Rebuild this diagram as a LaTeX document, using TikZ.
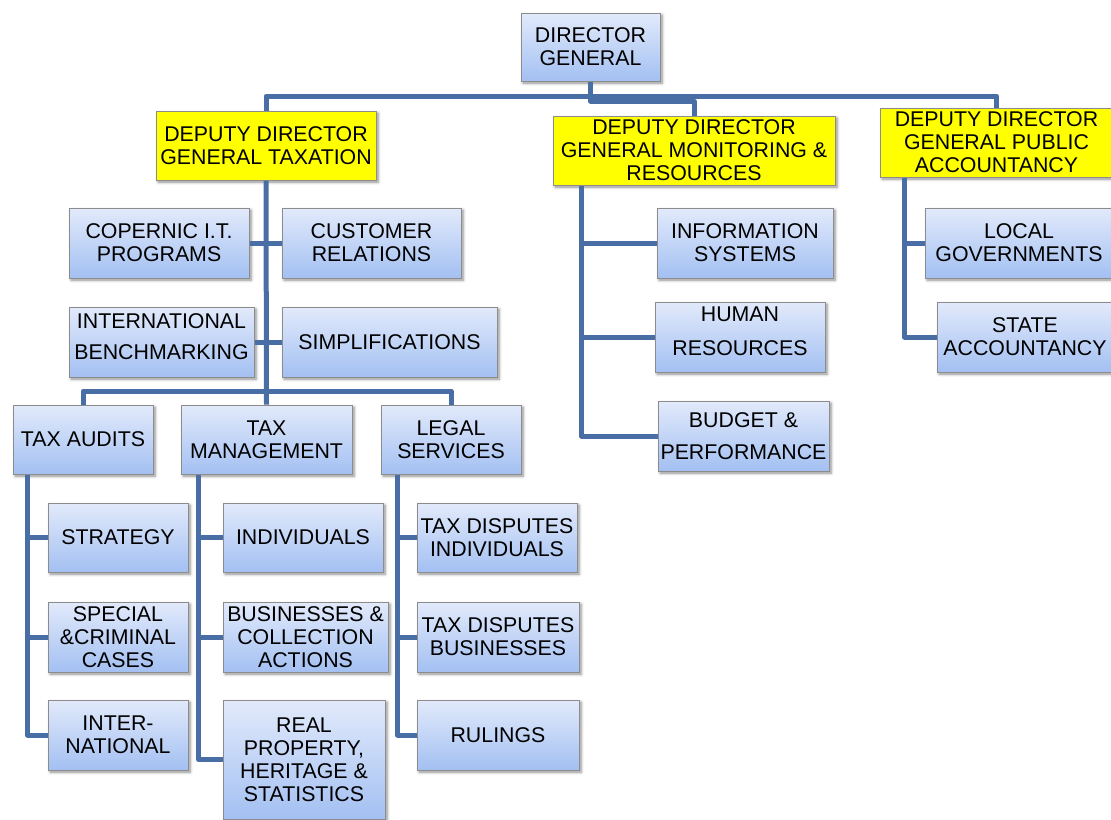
\documentclass[tikz,border=0pt]{standalone}
\usepackage{fontspec}
\setmainfont{Liberation Sans}
\usetikzlibrary{shadows.blur}
\definecolor{linkblue}{RGB}{72,110,165}
\definecolor{boxtop}{RGB}{226,234,251}
\definecolor{boxbottom}{RGB}{163,192,242}
\definecolor{boxedge}{RGB}{140,140,140}
\definecolor{deputy}{RGB}{255,255,0}

% unit box: name, style, x1, y1, x2, y2, text (pixel coordinates)
\newcommand\orgbox[7]{%
  \pgfmathsetmacro\obw{(#5-#3)*0.75}%
  \pgfmathsetmacro\obh{(#6-#4)*0.75}%
  \pgfmathsetmacro\obx{(#3+#5)/2}%
  \pgfmathsetmacro\oby{(#4+#6)/2}%
  \node[#2, minimum width=\obw pt, minimum height=\obh pt] (#1) at (\obx,\oby) {#7};}

\begin{document}
\begin{tikzpicture}[x=0.75pt,y=-0.75pt,
  every node/.style={font=\fontsize{16}{17.2}\selectfont, align=center, inner sep=0pt},
  unit/.style={draw=boxedge, line width=0.75pt, top color=boxtop, bottom color=boxbottom,
    blur shadow={shadow xshift=1.6pt, shadow yshift=-1.6pt, shadow blur steps=5, shadow opacity=45}},
  deputybox/.style={draw=boxedge, line width=0.75pt, fill=deputy,
    blur shadow={shadow xshift=1.6pt, shadow yshift=-1.6pt, shadow blur steps=5, shadow opacity=45}},
  link/.style={draw=linkblue, line width=3.75pt, line join=round}]
\useasboundingbox (0,0) rectangle (1111,819);

% top level
\orgbox{dg}{unit}{521}{13}{660}{81}{DIRECTOR\\GENERAL}
\orgbox{tax}{deputybox}{156}{111}{376}{180}{DEPUTY DIRECTOR\\GENERAL TAXATION}
\orgbox{mon}{deputybox}{553}{116}{835}{185}{DEPUTY DIRECTOR\\GENERAL MONITORING \&\\RESOURCES}
\orgbox{pub}{deputybox}{880}{108}{1113}{177}{DEPUTY DIRECTOR\\GENERAL PUBLIC\\ACCOUNTANCY}

% taxation staff units
\orgbox{cop}{unit}{69}{208}{249}{278}{COPERNIC I.T.\\PROGRAMS}
\orgbox{cust}{unit}{282}{208}{461}{278}{CUSTOMER\\RELATIONS}
\orgbox{bench}{unit,text depth=8pt}{69}{307}{254}{377}{INTERNATIONAL\\[5.6pt]BENCHMARKING}
\orgbox{simp}{unit}{282}{307}{497}{377}{SIMPLIFICATIONS}

% taxation departments
\orgbox{audits}{unit}{13}{405}{153}{474}{TAX AUDITS}
\orgbox{mgmt}{unit}{181}{405}{352}{474}{TAX\\MANAGEMENT}
\orgbox{legal}{unit}{381}{405}{521}{474}{LEGAL\\SERVICES}

\orgbox{strat}{unit}{48}{503}{188}{572}{STRATEGY}
\orgbox{crim}{unit}{48}{602}{188}{672}{SPECIAL\\\&CRIMINAL\\CASES}
\orgbox{inter}{unit}{48}{700}{188}{770}{INTER-\\NATIONAL}

\orgbox{indiv}{unit}{223}{503}{383}{572}{INDIVIDUALS}
\orgbox{busi}{unit}{223}{602}{388}{672}{BUSINESSES \&\\COLLECTION\\ACTIONS}
\orgbox{real}{unit}{223}{700}{385}{819}{REAL\\PROPERTY,\\HERITAGE \&\\STATISTICS}

\orgbox{tdi}{unit}{417}{503}{577}{572}{TAX DISPUTES\\INDIVIDUALS}
\orgbox{tdb}{unit}{417}{602}{579}{672}{TAX DISPUTES\\BUSINESSES}
\orgbox{rul}{unit}{417}{700}{579}{770}{RULINGS}

% monitoring & resources
\orgbox{info}{unit}{657}{208}{833}{278}{INFORMATION\\SYSTEMS}
\orgbox{hr}{unit,text depth=9pt}{655}{302}{825}{372}{HUMAN\\[7.9pt]RESOURCES}
\orgbox{budget}{unit}{658}{401}{829}{471}{BUDGET \&\\[6.4pt]PERFORMANCE}

% public accountancy
\orgbox{local}{unit}{925}{208}{1113}{278}{LOCAL\\GOVERNMENTS}
\orgbox{state}{unit}{937}{302}{1113}{372}{STATE\\ACCOUNTANCY}

% connectors from the director general
\coordinate (topbus) at (0,96);
\coordinate (monbus) at (0,101);
\draw[link] (tax.north) |- (topbus -| pub.north) -- (pub.north);
\draw[link] (dg.south) |- (monbus -| mon.north) -- (mon.north);

% taxation trunk and departments
\coordinate (deptbus) at (0,391);
\draw[link] (tax.south) -- (mgmt.north);
\draw[link] (audits.north) |- (deptbus -| legal.north) -- (legal.north);
\draw[link] (cop.east) -- (cust.west);
\draw[link] (bench.east) -- (simp.west);

% tax audits
\coordinate (atrunk) at ([xshift=11.25pt]audits.south west);
\draw[link] (atrunk) |- (inter.west);
\draw[link] (strat.west) -- (strat.west -| atrunk);
\draw[link] (crim.west) -- (crim.west -| atrunk);

% tax management
\coordinate (mtrunk) at ([xshift=13.5pt]mgmt.south west);
\draw[link] (mtrunk) |- (real.west);
\draw[link] (indiv.west) -- (indiv.west -| mtrunk);
\draw[link] (busi.west) -- (busi.west -| mtrunk);

% legal services
\coordinate (ltrunk) at ([xshift=12.75pt]legal.south west);
\draw[link] (ltrunk) |- (rul.west);
\draw[link] (tdi.west) -- (tdi.west -| ltrunk);
\draw[link] (tdb.west) -- (tdb.west -| ltrunk);

% monitoring & resources
\coordinate (rtrunk) at ([xshift=21.75pt]mon.south west);
\draw[link] (rtrunk) |- (budget.west);
\draw[link] (info.west) -- (info.west -| rtrunk);
\draw[link] (hr.west) -- (hr.west -| rtrunk);

% public accountancy
\coordinate (ptrunk) at ([xshift=18.75pt]pub.south west);
\draw[link] (ptrunk) |- (state.west);
\draw[link] (local.west) -- (local.west -| ptrunk);
\end{tikzpicture}
\end{document}
